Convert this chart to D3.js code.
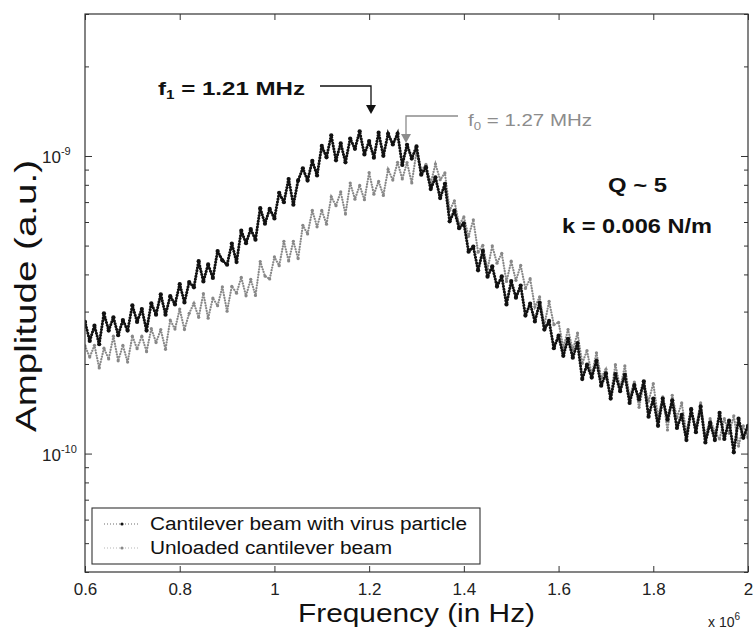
<!DOCTYPE html>
<html>
<head>
<meta charset="utf-8">
<script src="https://cdn.jsdelivr.net/npm/d3@7"></script>
<style>
  body { margin: 0; background: #fff; }
  svg { display: block; font-family: "Liberation Sans", Arial, sans-serif; }
</style>
</head>
<body>
<svg width="754" height="630"></svg>
<script>
// frequency samples (MHz)
const freqMHz = [
  0.60,0.61,0.62,0.63,0.64,0.65,0.66,0.67,0.68,0.69,
  0.70,0.71,0.72,0.73,0.74,0.75,0.76,0.77,0.78,0.79,
  0.80,0.81,0.82,0.83,0.84,0.85,0.86,0.87,0.88,0.89,
  0.90,0.91,0.92,0.93,0.94,0.95,0.96,0.97,0.98,0.99,
  1.00,1.01,1.02,1.03,1.04,1.05,1.06,1.07,1.08,1.09,
  1.10,1.11,1.12,1.13,1.14,1.15,1.16,1.17,1.18,1.19,
  1.20,1.21,1.22,1.23,1.24,1.25,1.26,1.27,1.28,1.29,
  1.30,1.31,1.32,1.33,1.34,1.35,1.36,1.37,1.38,1.39,
  1.40,1.41,1.42,1.43,1.44,1.45,1.46,1.47,1.48,1.49,
  1.50,1.51,1.52,1.53,1.54,1.55,1.56,1.57,1.58,1.59,
  1.60,1.61,1.62,1.63,1.64,1.65,1.66,1.67,1.68,1.69,
  1.70,1.71,1.72,1.73,1.74,1.75,1.76,1.77,1.78,1.79,
  1.80,1.81,1.82,1.83,1.84,1.85,1.86,1.87,1.88,1.89,
  1.90,1.91,1.92,1.93,1.94,1.95,1.96,1.97,1.98,1.99,
  2.00
]

// amplitudes, in units of 1e-10 (a.u.)
const virusAmp = [
  2.77,2.39,2.69,2.33,2.96,2.59,2.87,2.50,2.81,2.59,
  3.15,2.77,3.06,2.59,3.20,2.93,3.43,2.93,3.38,3.17,
  3.71,3.22,3.77,3.62,4.43,3.79,4.32,3.89,4.79,4.46,
  4.31,5.08,4.40,5.61,5.09,5.68,5.23,6.68,5.92,6.64,
  6.17,7.52,6.99,8.37,6.86,8.28,9.09,8.27,9.63,8.60,
  10.81,9.90,11.74,9.67,11.02,9.52,11.45,10.57,12.10,10.12,
  11.22,9.87,11.98,10.01,11.87,10.94,11.88,9.33,10.91,9.80,
  10.77,8.65,9.17,7.74,8.48,7.22,8.06,6.03,6.55,5.72,
  5.94,4.77,4.96,4.13,4.80,3.93,4.26,3.64,3.94,3.17,
  3.80,3.34,3.67,2.91,3.19,2.78,3.21,2.61,2.79,2.26,
  2.49,2.13,2.43,2.10,2.35,1.78,1.99,1.80,2.05,1.69,
  1.86,1.53,1.85,1.62,1.84,1.48,1.70,1.52,1.75,1.33,
  1.53,1.24,1.53,1.30,1.51,1.22,1.35,1.11,1.41,1.18,
  1.44,1.09,1.27,1.11,1.37,1.12,1.29,1.01,1.31,1.13,
  1.24
]

const unloadedAmp = [
  2.30,2.11,2.31,1.94,2.26,2.08,2.48,2.05,2.31,2.03,
  2.48,2.25,2.48,2.20,2.63,2.36,2.61,2.24,2.81,2.62,
  3.06,2.61,2.96,3.20,2.87,3.45,2.85,3.33,3.14,3.63,
  3.01,3.65,3.46,3.91,3.39,3.85,3.40,4.42,3.95,3.86,
  4.58,4.28,5.17,4.44,5.17,4.52,5.85,5.47,6.57,5.78,
  6.56,5.90,7.29,6.81,7.57,6.38,8.11,7.16,7.96,7.13,
  8.80,7.44,8.22,7.37,9.01,8.30,9.52,8.37,9.51,8.12,
  10.34,8.93,9.37,8.10,9.40,8.32,8.77,6.57,7.07,5.86,
  6.24,5.37,6.10,4.75,5.01,4.16,4.99,4.36,4.71,3.79,
  4.43,3.82,4.29,3.59,3.87,3.11,3.36,2.70,3.25,2.71,
  2.76,2.27,2.61,2.23,2.54,2.01,2.22,1.84,2.18,1.80,
  1.92,1.56,1.99,1.66,1.97,1.55,1.74,1.43,1.72,1.50,
  1.72,1.33,1.55,1.20,1.57,1.32,1.48,1.17,1.42,1.21,
  1.48,1.14,1.31,1.18,1.12,1.31,1.17,1.34,1.06,1.24,
  1.13
]

const ampUnit = 1e-10
const xTicks = [0.6, 0.8, 1, 1.2, 1.4, 1.6, 1.8, 2]
const yMajorTicks = [1e-10, 1e-9]
const yMajorLabels = ["-10", "-9"]
const yMinorTicks = [4e-11, 5e-11, 6e-11, 7e-11, 8e-11, 9e-11,
  2e-10, 3e-10, 4e-10, 5e-10, 6e-10, 7e-10, 8e-10, 9e-10, 2e-9, 3e-9]
const seriesNames = ["Cantilever beam with virus particle", "Unloaded cantilever beam"]
const seriesColors = ["#111", "#888"]

const svg = d3.select("svg")
const plotL = 85, plotR = 748, plotT = 14, plotB = 572

const xScale = d3.scaleLinear().domain([0.6, 2.0]).range([plotL, plotR])
const yScale = d3.scaleLog().domain([4e-11, 3e-9]).range([plotB, plotT])

// clip
svg.append("clipPath").attr("id", "plotclip")
  .append("rect").attr("x", plotL).attr("y", plotT)
  .attr("width", plotR - plotL).attr("height", plotB - plotT)

// series: gray first, black on top
const series = [
  { name: seriesNames[1], vals: unloadedAmp, color: seriesColors[1], w: 2.2, r: 1.6, dash: "0.1 2.6" },
  { name: seriesNames[0], vals: virusAmp, color: seriesColors[0], w: 3, r: 2.1, dash: "0.1 2.8" }
]
const plot = svg.append("g").attr("clip-path", "url(#plotclip)")
const line = d3.line().x(d => xScale(d[0])).y(d => yScale(d[1] * ampUnit))

series.forEach(s => {
  const pts = freqMHz.map((f, i) => [f, s.vals[i]])
  plot.append("path").datum(pts)
    .attr("d", line)
    .attr("fill", "none")
    .attr("stroke", s.color)
    .attr("stroke-width", s.w)
    .attr("stroke-linecap", "round")
    .attr("stroke-dasharray", s.dash)
  plot.selectAll(null).data(pts).enter().append("circle")
    .attr("cx", d => xScale(d[0]))
    .attr("cy", d => yScale(d[1] * ampUnit))
    .attr("r", s.r)
    .attr("fill", s.color)
})

// axes (ticks inside, box all round)
const axisColor = "#333"
const gx = svg.append("g").attr("transform", "translate(0," + plotB + ")")
  .call(d3.axisBottom(xScale).tickValues(xTicks).tickSizeInner(-6).tickSizeOuter(0)
    .tickPadding(11).tickFormat(d3.format("")))
svg.append("g").attr("transform", "translate(0," + plotT + ")")
  .call(d3.axisTop(xScale).tickValues(xTicks).tickSizeInner(-6).tickSizeOuter(0).tickFormat(""))
svg.append("g").attr("transform", "translate(" + plotL + ",0)")
  .call(d3.axisLeft(yScale).tickValues(yMinorTicks).tickSizeInner(-4).tickSizeOuter(0).tickFormat(""))
svg.append("g").attr("transform", "translate(" + plotL + ",0)")
  .call(d3.axisLeft(yScale).tickValues(yMajorTicks).tickSizeInner(-7).tickSizeOuter(0).tickFormat(""))
svg.append("g").attr("transform", "translate(" + plotR + ",0)")
  .call(d3.axisRight(yScale).tickValues(yMinorTicks).tickSizeInner(-4).tickSizeOuter(0).tickFormat(""))
svg.append("g").attr("transform", "translate(" + plotR + ",0)")
  .call(d3.axisRight(yScale).tickValues(yMajorTicks).tickSizeInner(-7).tickSizeOuter(0).tickFormat(""))
svg.selectAll(".domain").remove()
svg.selectAll(".tick line").attr("stroke", axisColor)
gx.selectAll("text").attr("font-size", 17).attr("fill", "#222")
  .attr("font-family", "Liberation Sans, Arial, sans-serif")

svg.append("rect").attr("x", plotL).attr("y", plotT)
  .attr("width", plotR - plotL).attr("height", plotB - plotT)
  .attr("fill", "none").attr("stroke", axisColor).attr("stroke-width", 1.2)

// y tick labels 10^n
yMajorTicks.forEach((v, i) => {
  const t = svg.append("text").attr("x", 42).attr("y", yScale(v) + 7)
    .attr("font-size", 17).attr("fill", "#222")
  t.append("tspan").text("10")
  t.append("tspan").attr("dy", -8).attr("font-size", 11).text(yMajorLabels[i])
})

// x 10^6
const ex = svg.append("text").attr("x", 708).attr("y", 627).attr("font-size", 14).attr("fill", "#222")
ex.append("tspan").text("x 10")
ex.append("tspan").attr("dy", -7).attr("font-size", 10).text("6")

// axis titles
svg.append("text").attr("x", 298).attr("y", 622)
  .attr("font-size", 25).attr("fill", "#111")
  .attr("textLength", 237).attr("lengthAdjust", "spacingAndGlyphs")
  .text("Frequency (in Hz)")
svg.append("text").attr("transform", "translate(36,432) rotate(-90)")
  .attr("font-size", 30).attr("fill", "#111")
  .attr("textLength", 272).attr("lengthAdjust", "spacingAndGlyphs")
  .text("Amplitude (a.u.)")

// annotations
const f1 = svg.append("text").attr("x", 158).attr("y", 95)
  .attr("font-size", 19).attr("font-weight", "bold").attr("fill", "#111")
  .attr("textLength", 147).attr("lengthAdjust", "spacingAndGlyphs")
f1.append("tspan").text("f")
f1.append("tspan").attr("dy", 4).attr("font-size", 12).text("1")
f1.append("tspan").attr("dy", -4).text(" = 1.21 MHz")

svg.append("path").attr("d", "M320,86H371V106")
  .attr("fill", "none").attr("stroke", "#111").attr("stroke-width", 1.3)
svg.append("path").attr("d", "M366,105L376,105L371,114Z").attr("fill", "#111")

const f0 = svg.append("text").attr("x", 468).attr("y", 126)
  .attr("font-size", 17).attr("fill", "#8c8c8c")
  .attr("textLength", 124).attr("lengthAdjust", "spacingAndGlyphs")
f0.append("tspan").text("f")
f0.append("tspan").attr("dy", 4).attr("font-size", 11).text("0")
f0.append("tspan").attr("dy", -4).text(" = 1.27 MHz")

svg.append("path").attr("d", "M458,116H406V135")
  .attr("fill", "none").attr("stroke", "#8c8c8c").attr("stroke-width", 1.3)
svg.append("path").attr("d", "M401,134L411,134L406,143Z").attr("fill", "#8c8c8c")

svg.append("text").attr("x", 608).attr("y", 192)
  .attr("font-size", 20).attr("font-weight", "bold").attr("fill", "#111")
  .attr("textLength", 59).attr("lengthAdjust", "spacingAndGlyphs")
  .text("Q ~ 5")
svg.append("text").attr("x", 562).attr("y", 233)
  .attr("font-size", 20).attr("font-weight", "bold").attr("fill", "#111")
  .attr("textLength", 150).attr("lengthAdjust", "spacingAndGlyphs")
  .text("k = 0.006 N/m")

// legend
const lg = svg.append("g")
lg.append("rect").attr("x", 92).attr("y", 508).attr("width", 388).attr("height", 56)
  .attr("fill", "#fff").attr("stroke", axisColor).attr("stroke-width", 1.1)
const legendRows = [
  { name: seriesNames[0], color: seriesColors[0], y: 524, len: 317 },
  { name: seriesNames[1], color: seriesColors[1], y: 548, len: 242 }
]
legendRows.forEach(r => {
  lg.append("line").attr("x1", 104).attr("x2", 140).attr("y1", r.y).attr("y2", r.y)
    .attr("stroke", r.color).attr("stroke-width", 1.2).attr("stroke-dasharray", "1 2")
    .attr("opacity", 0.6)
  lg.append("circle").attr("cx", 122).attr("cy", r.y).attr("r", 1.6).attr("fill", r.color)
  lg.append("text").attr("x", 150).attr("y", r.y + 6)
    .attr("font-size", 18).attr("fill", "#111")
    .attr("textLength", r.len).attr("lengthAdjust", "spacingAndGlyphs")
    .text(r.name)
})
</script>
</body>
</html>
